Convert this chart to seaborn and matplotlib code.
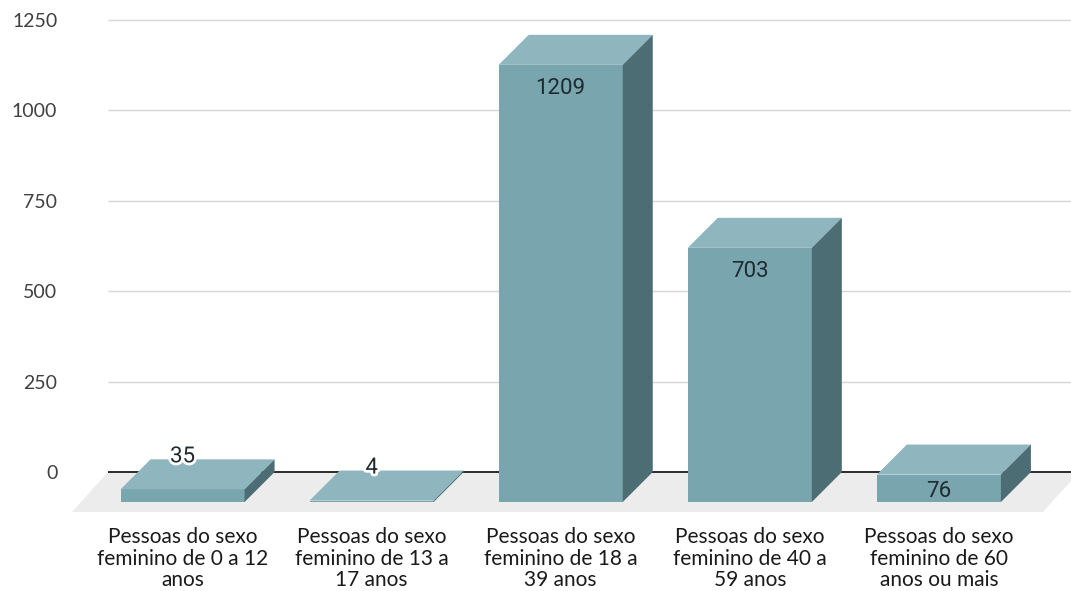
import numpy as np
import pandas as pd
import matplotlib
matplotlib.use("Agg")
import matplotlib.pyplot as plt
from matplotlib.patches import Polygon
import matplotlib.patheffects as pe
import seaborn as sns

# Data
categories = [
    "Pessoas do sexo\nfeminino de 0 a 12\nanos",
    "Pessoas do sexo\nfeminino de 13 a\n17 anos",
    "Pessoas do sexo\nfeminino de 18 a\n39 anos",
    "Pessoas do sexo\nfeminino de 40 a\n59 anos",
    "Pessoas do sexo\nfeminino de 60\nanos ou mais",
]
values = [35, 4, 1209, 703, 76]
y_ticks = [0, 250, 500, 750, 1000, 1250]

sns.set_theme(style="white")
plt.rcParams["font.family"] = ["Lato", "DejaVu Sans"]

DPI = 100
W_PX, H_PX = 1071, 591
fig = plt.figure(figsize=(W_PX / DPI, H_PX / DPI), dpi=DPI)
ax = fig.add_axes([108 / W_PX, 1 - 512 / H_PX, 963 / W_PX, 502 / H_PX])

FRONT = "#78a5ae"
TOP = "#8fb6be"
SIDE = "#4c6d74"
FLOOR = "#ececec"
DEPTH_PX = 30          # 3-D depth of the bars, in pixels
FLOOR_DX_PX = 36       # slant of the floor edges, in pixels
BAR_W = 0.656

df = pd.DataFrame({"grupo": categories, "pessoas": values})
sns.barplot(data=df, x="grupo", y="pessoas", color=FRONT, saturation=1,
            width=BAR_W, edgecolor="none", linewidth=0, ax=ax, zorder=3)

xlim = (-0.553, 4.540)
ylim = (-110.6, 1277.7)
ax.set_xlim(*xlim)
ax.set_ylim(*ylim)

bbox = ax.get_window_extent()
px_x = bbox.width / (xlim[1] - xlim[0])
px_y = bbox.height / (ylim[1] - ylim[0])
dx = DEPTH_PX / px_x
dy = DEPTH_PX / px_y

# Floor plane
fdx = FLOOR_DX_PX / px_x
back_right = xlim[1] + 8 / px_x
floor = Polygon([(xlim[0], 0), (back_right, 0),
                 (back_right - fdx, ylim[0]), (xlim[0] - fdx, ylim[0])],
                closed=True, facecolor=FLOOR, edgecolor="none",
                zorder=1, clip_on=False)
ax.add_patch(floor)

# Back wall gridlines and the zero line
for t in y_ticks[1:]:
    ax.plot(xlim, [t, t], color="#d6d6d6", lw=1.0, zorder=0.8,
            solid_capstyle="butt")
ax.plot(xlim, [0, 0], color="#2b2b2b", lw=1.4, zorder=2,
        solid_capstyle="butt")

# Turn each flat bar into a box: move the front face forward, add top & side
bars = [p for p in ax.patches if p is not floor]
for bar, v in zip(bars, values):
    x0 = bar.get_x()
    w = bar.get_width()
    bar.set_x(x0 - dx)
    bar.set_y(-dy)
    fx0, fx1 = x0 - dx, x0 + w - dx
    top = Polygon([(fx0, v - dy), (fx1, v - dy), (x0 + w, v), (x0, v)],
                  closed=True, facecolor=TOP, edgecolor="none", zorder=3)
    side = Polygon([(fx1, -dy), (fx1, v - dy), (x0 + w, v), (x0 + w, 0)],
                   closed=True, facecolor=SIDE, edgecolor="none", zorder=3)
    ax.add_patch(top)
    ax.add_patch(side)

    # Value label
    cx = (fx0 + fx1) / 2
    face_px = v * px_y
    kw = dict(ha="center", va="baseline", fontsize=16, color="#1f2b30",
              family=["Roboto", "DejaVu Sans"], zorder=5,
              textcoords="offset points")
    if face_px >= 45:
        ax.annotate(f"{v}", (cx, v - dy), xytext=(0, -29 * 0.72), **kw)
    elif face_px >= 20:
        ax.annotate(f"{v}", (cx, v / 2 - dy), xytext=(0, -8.5 * 0.72), **kw)
    else:
        t = ax.annotate(f"{v}", (cx, v), xytext=(0, -3 * 0.72), **kw)
        t.set_path_effects([pe.withStroke(linewidth=4, foreground="white")])

# Axes decoration
ax.set_yticks(y_ticks, labels=[str(t) for t in y_ticks])
ax.set_xticks(np.arange(len(categories)) - dx, labels=categories)
ax.tick_params(axis="y", length=0, pad=36.5, labelsize=14, labelcolor="#404040")
ax.tick_params(axis="x", length=0, pad=11, labelsize=15, labelcolor="#1a1a1a")
for lab in ax.get_xticklabels():
    lab.set_linespacing(1.08)
ax.set_xlabel("")
ax.set_ylabel("")
ax.grid(False)
for s in ax.spines.values():
    s.set_visible(False)
ax.set_facecolor("white")

fig.savefig("out.png", dpi=DPI)
